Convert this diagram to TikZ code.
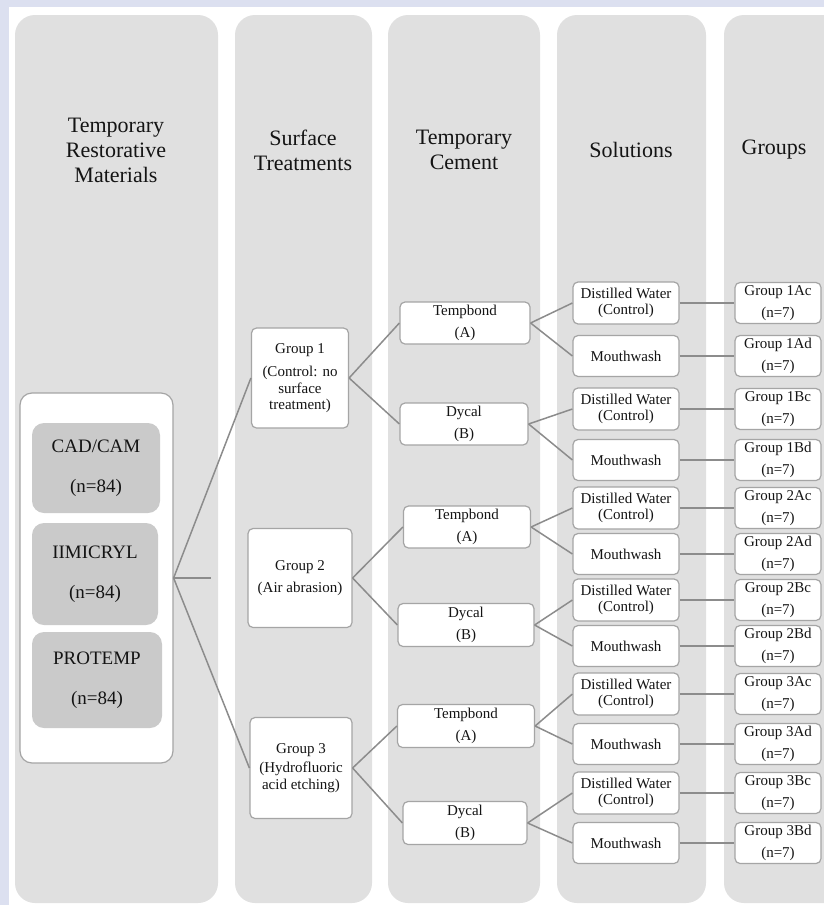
\documentclass[tikz,border=0pt]{standalone}
\usepackage{fontspec}
\setmainfont{Liberation Serif}
\usetikzlibrary{positioning}
\definecolor{lavender}{RGB}{220,224,240}
\definecolor{colgray}{RGB}{224,224,224}
\definecolor{matgray}{RGB}{202,202,202}
\definecolor{edgegray}{RGB}{165,165,165}
\definecolor{linegray}{RGB}{140,140,140}
\tikzset{
  column/.style={fill=colgray, rounded corners=20pt},
  header/.style={align=center, text=black!92, font=\fontsize{22}{25}\selectfont},
  box/.style={draw=edgegray, line width=1.2pt, fill=white, rounded corners=5pt,
    align=center, text=black!92, inner sep=2pt, font=\fontsize{15}{16.5}\selectfont},
  matbox/.style={fill=matgray, rounded corners=12pt, align=center, text=black!92,
    font=\fontsize{19}{22}\selectfont},
  link/.style={draw=linegray, line width=1.5pt},
}

\begin{document}
\begin{tikzpicture}[x=1pt,y=-1pt]
    \clip (0,0) rectangle (824,905);
    \fill[lavender] (0,0) rectangle (824,905);
    \fill[white] (9,7) rectangle (824,905);
    % columns
    \fill[column] (15,15) rectangle (218,903);
    \fill[column] (235,15) rectangle (372,903);
    \fill[column] (388,15) rectangle (540,903);
    \fill[column] (557,15) rectangle (706,903);
    \fill[column] (724,15) rectangle (860,903);
    \node[header] (hmat) at (116,150) {Temporary\\Restorative\\Materials};
    \node[header] (hsurf) at (303,150) {Surface\\Treatments};
    \node[header] (hcem) at (464,150) {Temporary\\Cement};
    \node[header] (hsol) at (631,150) {Solutions};
    \node[header] (hgrp) at (774,150) {Groups};
    % materials
    \node[box, rounded corners=12pt, minimum width=153pt, minimum height=370pt] (materials) at (96.5,578) {};
    \node[matbox, minimum width=128pt, minimum height=90pt] (cadcam) at (96,468) {CAD/CAM\\[18pt](n=84)};
    \node[matbox, minimum width=126pt, minimum height=102pt] (imicryl) at (95,574) {IIMICRYL\\[18pt](n=84)};
    \node[matbox, minimum width=130pt, minimum height=96pt] (protemp) at (97,680) {PROTEMP\\[18pt](n=84)};
    \coordinate (stub) at (211,578);
    % surface treatments
    \node[box, minimum width=97pt, minimum height=100pt] (g1) at (300,378) {Group 1\\[7pt](Control: no\\surface\\treatment)};
    \node[box, minimum width=104pt, minimum height=99pt] (g2) at (300,578) {Group 2\\[6pt](Air abrasion)};
    \node[box, minimum width=102pt, minimum height=101pt] (g3) at (301,768) {Group 3\\[3pt](Hydrofluoric\\acid etching)};
    % cements
    \node[box, minimum width=130pt, minimum height=42pt] (t1) at (465,323) {Tempbond\\[6pt](A)};
    \node[box, minimum width=128pt, minimum height=42pt] (d1) at (464,424) {Dycal\\[6pt](B)};
    \node[box, minimum width=127pt, minimum height=42pt] (t2) at (467,527) {Tempbond\\[6pt](A)};
    \node[box, minimum width=136pt, minimum height=43pt] (d2) at (466,625) {Dycal\\[6pt](B)};
    \node[box, minimum width=137pt, minimum height=43pt] (t3) at (466,726) {Tempbond\\[6pt](A)};
    \node[box, minimum width=124pt, minimum height=43pt] (d3) at (465,823) {Dycal\\[6pt](B)};
    % solutions and groups
    \foreach \y/\g/\cem in {303/1Ac/t1, 409/1Bc/d1, 508/2Ac/t2, 600/2Bc/d2, 694/3Ac/t3, 793/3Bc/d3}{
      \node[box, minimum width=106pt, minimum height=42pt] (sol\g) at (626,\y) {Distilled Water\\(Control)};
      \node[box, minimum width=86pt, minimum height=41pt] (grp\g) at (778,\y) {Group \g\\[5pt](n=7)};
      \draw[link] (\cem.east) -- (sol\g.west);
      \draw[link] (sol\g) -- (grp\g);
    }
    \foreach \y/\g/\cem in {356/1Ad/t1, 460/1Bd/d1, 554/2Ad/t2, 646/2Bd/d2, 744/3Ad/t3, 843/3Bd/d3}{
      \node[box, minimum width=106pt, minimum height=41pt] (sol\g) at (626,\y) {Mouthwash};
      \node[box, minimum width=86pt, minimum height=41pt] (grp\g) at (778,\y) {Group \g\\[5pt](n=7)};
      \draw[link] (\cem.east) -- (sol\g.west);
      \draw[link] (sol\g) -- (grp\g);
    }
    % connectors
    \draw[link] (materials.east) -- (stub);
    \draw[link] (materials.east) -- (g1.west);
    \draw[link] (materials.east) -- (g3.west);
    \foreach \s/\a/\b in {g1/t1/d1, g2/t2/d2, g3/t3/d3}{
      \draw[link] (\s.east) -- (\a.west);
      \draw[link] (\s.east) -- (\b.west);
    }
\end{tikzpicture}
\end{document}
